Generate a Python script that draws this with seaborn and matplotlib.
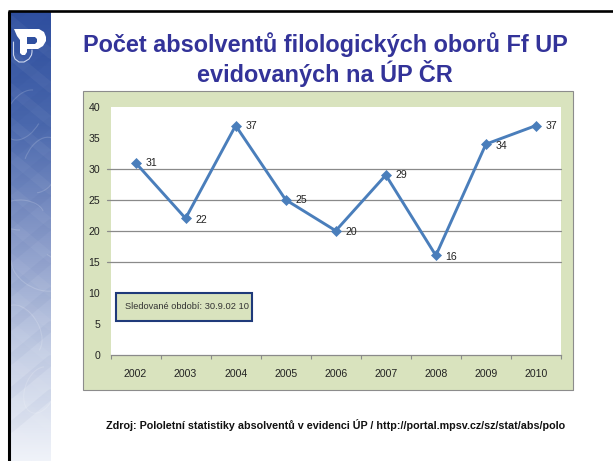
import numpy as np
import pandas as pd
import seaborn as sns
import matplotlib.pyplot as plt
from matplotlib.colors import LinearSegmentedColormap
from matplotlib.patches import Rectangle, Arc, Polygon

years = ['2002', '2003', '2004', '2005', '2006', '2007', '2008', '2009', '2010']
graduates = [31, 22, 37, 25, 20, 29, 16, 34, 37]
y_ticks = [0, 5, 10, 15, 20, 25, 30, 35, 40]
grid_levels = [15, 20, 25, 30]
title = 'Počet absolventů filologických oborů Ff UP\nevidovaných na ÚP ČR'
note = 'Sledované období: 30.9.02 10'
source = 'Zdroj: Pololetní statistiky absolventů v evidenci ÚP / http://portal.mpsv.cz/sz/stat/abs/polo'

W, H = 613, 461
PANEL = '#d9e3be'
LINE = '#4a7ebb'
LOGO_BLUE = '#2f4f9f'

sns.set_theme(style='white')
plt.rcParams['font.family'] = ['Liberation Sans', 'DejaVu Sans']

fig = plt.figure(figsize=(W / 100, H / 100), dpi=100, facecolor='white')

# slide background, drawn in pixel coordinates
bg = fig.add_axes([0, 0, 1, 1])
bg.axis('off')

strip = LinearSegmentedColormap.from_list('strip', ['#2f4f9f', '#4a68ad', '#8799c8', '#c3cde4', '#f0f3f9'])
grad = np.linspace(0, 1, 256).reshape(-1, 1)
bg.imshow(grad, cmap=strip, extent=(10, 51, H, 12), aspect='auto', zorder=1)
bg.set_xlim(0, W)
bg.set_ylim(H, 0)

clip = Rectangle((10, 12), 41, H, transform=bg.transData)
# faint woven texture of the strip
for y0 in range(20, 460, 34):
    for sign, col, a in [(1, 'white', 0.045), (-1, '#1d3a8a', 0.04)]:
        ln, = bg.plot([10, 51], [y0, y0 + sign * 34], color=col, alpha=a, lw=7, zorder=2)
        ln.set_clip_path(clip)
for cx, cy, d, a in [(24, 115, 34, 30), (42, 165, 36, 200), (20, 215, 30, 90), (38, 270, 36, 300),
                     (22, 330, 34, 150), (40, 390, 30, 20)]:
    arc = Arc((cx, cy), d, d * 1.6, angle=a, theta1=0, theta2=260, color='white', alpha=0.16, lw=0.8, zorder=2)
    bg.add_patch(arc)
    arc.set_clip_path(clip)

bg.plot([8.7, 8.7], [12, H], color='black', lw=2.2, zorder=3)
bg.plot([7.6, W], [11, 11], color='black', lw=1.9, solid_capstyle='butt', zorder=3)

# university logo
bg.add_patch(Polygon([(14, 29), (39, 29), (44, 32), (46, 37), (46, 41), (43, 46), (38, 49), (27, 49),
                      (27, 52), (25, 55), (22, 55), (20, 53), (20, 40), (17, 36)],
                     closed=True, fc='white', ec='none', zorder=4))
bg.add_patch(Polygon([(27, 37), (35, 37), (37, 39), (37, 42), (35, 44), (27, 44)],
                     closed=True, fc=LOGO_BLUE, ec='none', zorder=5))
bg.plot([13.5, 13.5, 15, 19, 24, 29, 31.5, 32, 32], [42, 55, 59, 62, 62, 59, 55, 52, 50],
        color='#cdd6ee', lw=0.8, zorder=4)

bg.text(325, 60, title, ha='center', va='center', fontsize=16.9, fontweight='bold',
        color='#333399', linespacing=1.14, zorder=4)
bg.text(336, 425, source, ha='center', va='center', fontsize=7.75, fontweight='bold',
        color='#111111', zorder=4)

# chart panel and its shadow
bg.add_patch(Rectangle((84, 93), 490, 298, fc='#a8a8a8', ec='none', zorder=4))
bg.add_patch(Rectangle((82.5, 91.5), 490, 298, fc=PANEL, ec='#8c8c8c', lw=0.8, zorder=5))

left, right, top, bottom = 110.5, 561, 107, 354.5
ax = fig.add_axes([left / W, 1 - bottom / H, (right - left) / W, (bottom - top) / H], facecolor='white')

df = pd.DataFrame({'year': years, 'graduates': graduates})
for level in grid_levels:
    ax.axhline(level, xmin=-0.008, color='#8a8a8a', lw=0.9, clip_on=False, zorder=1)
sns.lineplot(data=df, x='year', y='graduates', ax=ax, color=LINE, lw=2.1, marker='D', ms=5.5,
             markeredgecolor=LINE, markeredgewidth=0.5, sort=False, zorder=3)

ax.set_xlim(-0.5, len(years) - 0.5)
ax.set_ylim(0, 40)
ax.set_yticks(y_ticks)
ax.set_xlabel('')
ax.set_ylabel('')
ax.set_xticks(np.arange(len(years) + 1) - 0.5, minor=True)
ax.tick_params(axis='x', which='major', length=0, pad=10.5, labelsize=7.6, labelcolor='#222222')
ax.tick_params(axis='x', which='minor', length=3.2, width=0.8, color='#8a8a8a', bottom=True)
ax.tick_params(axis='y', length=0, pad=7.5, labelsize=7.6, labelcolor='#222222')
for side in ['top', 'right', 'left']:
    ax.spines[side].set_visible(False)
ax.spines['bottom'].set_color('#8a8a8a')
ax.spines['bottom'].set_linewidth(0.9)

# value labels sit to the right of each point
label_shift = [(7, 0), (7, -1), (7, 0), (7, 0), (7, -1), (7, 0), (7, -1), (7, -1), (7, 0)]
for i, v in enumerate(graduates):
    ax.annotate(str(v), (i, v), xytext=label_shift[i], textcoords='offset points', va='center',
                fontsize=7.6, color='#222222', zorder=4)

ax.add_patch(Rectangle((0.0122, 0.135), 0.302, 0.1135, transform=ax.transAxes, fc=PANEL, ec='#1f3a7a',
                       lw=1.5, zorder=5))
ax.text(0.0311, 0.192, note, transform=ax.transAxes, ha='left', va='center', fontsize=6.7,
        color='#333333', zorder=6)

fig.savefig('out.png', dpi=100)
